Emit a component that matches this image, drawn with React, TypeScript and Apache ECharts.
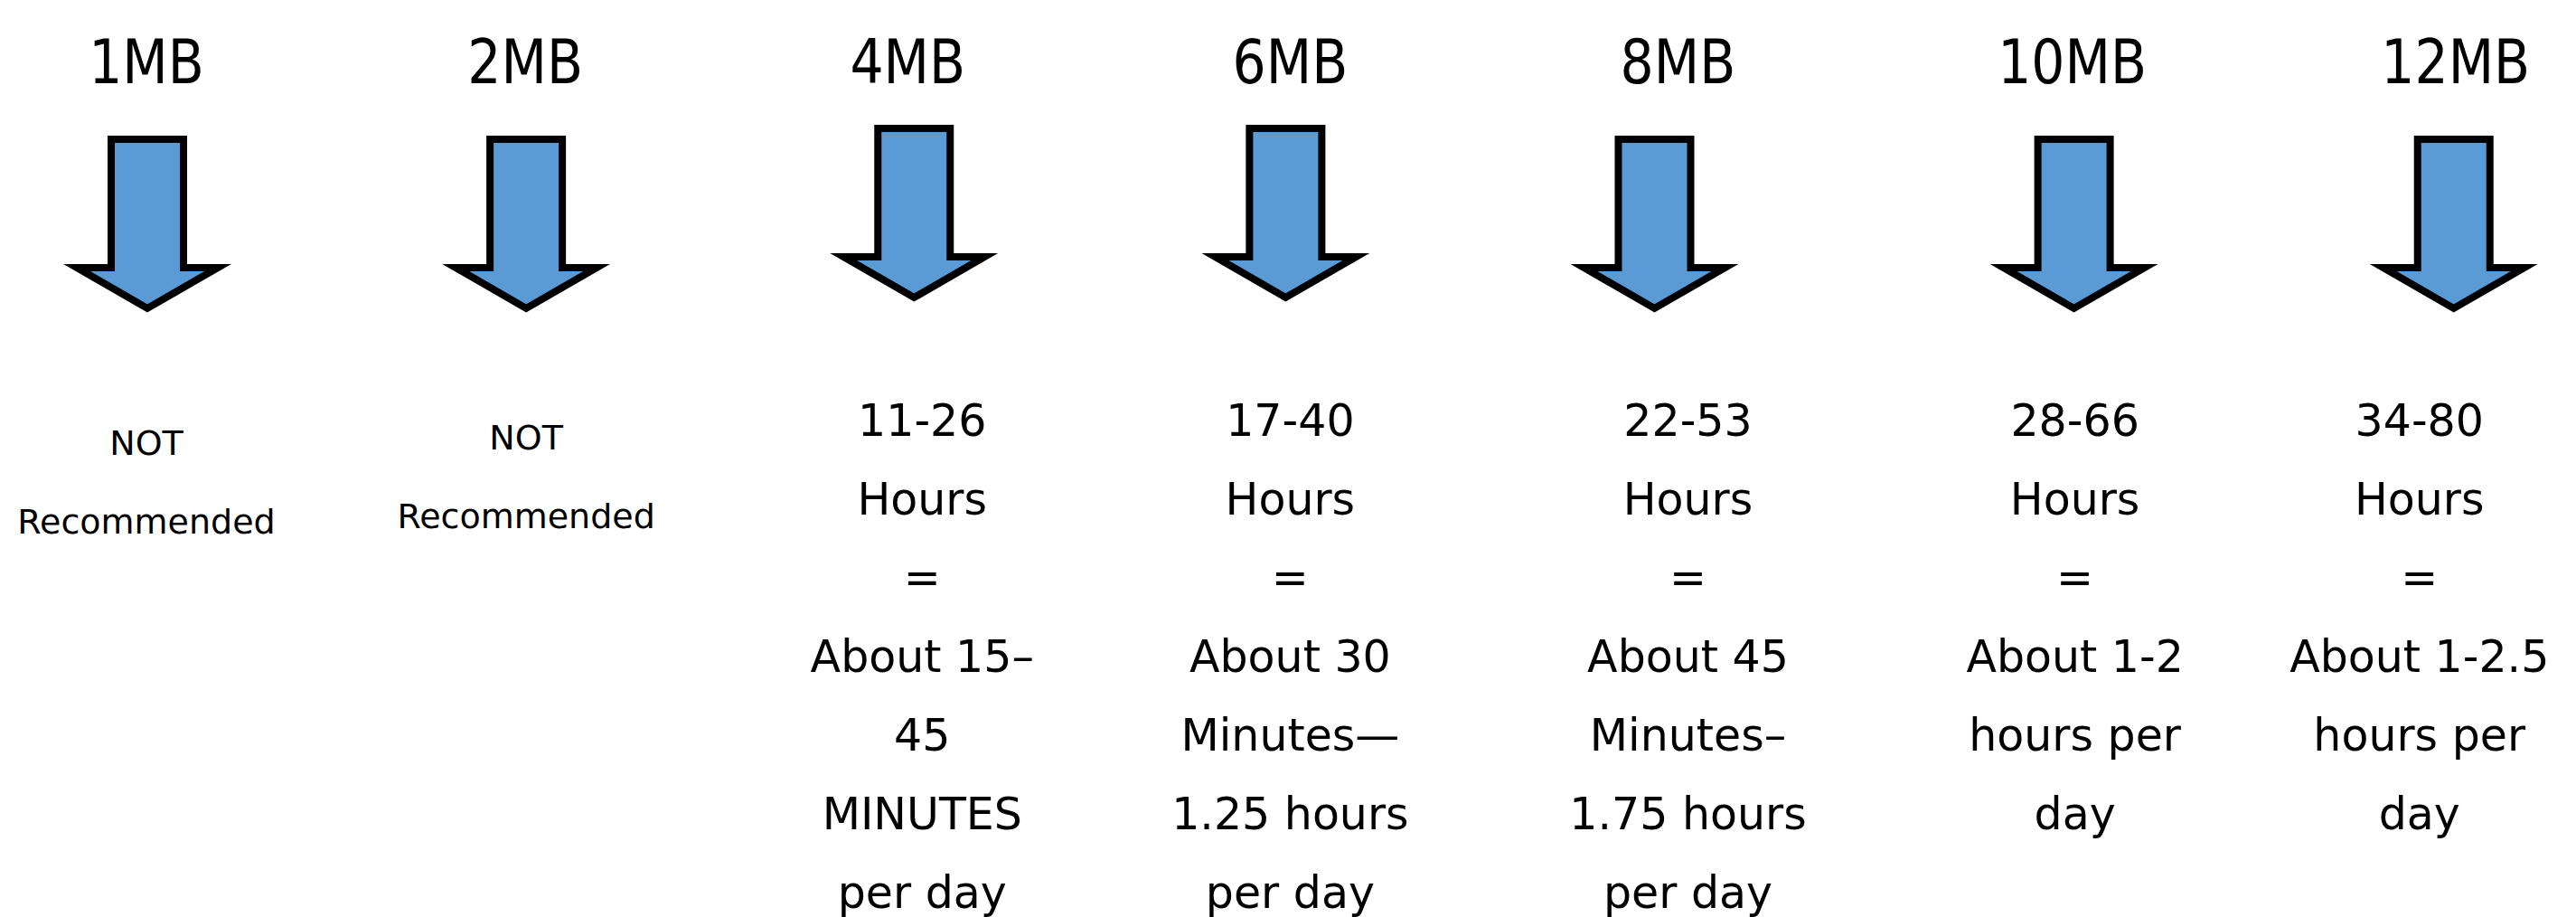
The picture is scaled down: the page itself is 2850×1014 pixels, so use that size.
import React, { useEffect, useRef } from "react";
import * as echarts from "echarts";

// ---- data ----
const categories = ["1MB", "2MB", "4MB", "6MB", "8MB", "10MB", "12MB"];
const hourRanges = [null, null, "11-26", "17-40", "22-53", "28-66", "34-80"];
const dailyUse = [
  null,
  null,
  ["About 15–", "45", "MINUTES", "per day"],
  ["About 30", "Minutes—", "1.25 hours", "per day"],
  ["About 45", "Minutes–", "1.75 hours", "per day"],
  ["About 1-2", "hours per", "day"],
  ["About 1-2.5", "hours per", "day"],
];
const notRecommendedText = "NOT\nRecommended";

// ---- layout / style ----
const W = 2850;
const H = 1014;
const FONT = '"DejaVu Sans", Verdana, sans-serif';
const ARROW_FILL = "#5B9BD5";
const LINE_H = 87;
// small hand-placement nudges of the original slide (pixels)
const arrowLift = [0, 0, 12, 12, 0, 0, 0];
const arrowShift = [7, 1, 5, -9, -26, 13, 8];
const headerShift = [6, 0, -2, -4, 0, 11, 10];
const bodyShift = [6, 1, 14, -4, 11, 14, -30];
const noteLift = [0, 6, 0, 0, 0, 0, 0];

function buildBody(i: number): { text: string; small: boolean } {
  const hr = hourRanges[i];
  const du = dailyUse[i];
  if (!hr || !du) return { text: notRecommendedText, small: true };
  return { text: [hr, "Hours", "=", ...du].join("\n"), small: false };
}

export default function App() {
  const ref = useRef<HTMLDivElement>(null);
  useEffect(() => {
    if (!ref.current) return;
    const chart = echarts.init(ref.current, undefined, { renderer: "svg" });
    const renderItem = (params: any, api: any) => {
      const i = params.dataIndex;
      const c = api.coord([api.value(0), 0])[0];
      const cx = c + arrowShift[i];
      const T = 154 - arrowLift[i];
      const Hd = T + 142;
      const tip = T + 187;
      const s = 40;
      const h = 78;
      const body = buildBody(i);
      return {
        type: "group",
        children: [
          {
            type: "polygon",
            shape: {
              points: [
                [cx - s, T],
                [cx + s, T],
                [cx + s, Hd],
                [cx + h, Hd],
                [cx, tip],
                [cx - h, Hd],
                [cx - s, Hd],
              ],
            },
            style: {
              fill: ARROW_FILL,
              stroke: "#000",
              lineWidth: 8,
              lineJoin: "miter",
              miterLimit: 10,
            },
          },
          {
            type: "text",
            x: c + headerShift[i],
            y: 68,
            scaleX: 0.86,
            style: {
              text: categories[i],
              x: 0,
              y: 0,
              align: "center",
              verticalAlign: "middle",
              fontFamily: FONT,
              fontSize: 68,
              fill: "#000",
            },
          },
          {
            type: "text",
            x: c + bodyShift[i],
            y: body.small ? 446 - noteLift[i] : 422,
            style: {
              text: body.text,
              x: 0,
              y: 0,
              align: "center",
              verticalAlign: "top",
              fontFamily: FONT,
              fontSize: body.small ? 38 : 49,
              lineHeight: LINE_H,
              fill: "#000",
            },
          },
        ],
      };
    };
    chart.setOption({
      animation: false,
      backgroundColor: "#ffffff",
      grid: { left: 0, right: 0, top: 0, bottom: 0 },
      xAxis: { type: "value", min: -0.367, max: 6.337, show: false },
      yAxis: { type: "value", min: 0, max: 1, show: false },
      series: [
        {
          type: "custom",
          renderItem,
          encode: { x: 0, y: 1 },
          data: categories.map((_, i) => [i, 0]),
          clip: false,
        },
      ],
    });
    return () => chart.dispose();
  }, []);
  return (
    <div
      ref={ref}
      style={{ position: "absolute", left: 0, top: 0, width: W, height: H, background: "#fff" }}
    />
  );
}
